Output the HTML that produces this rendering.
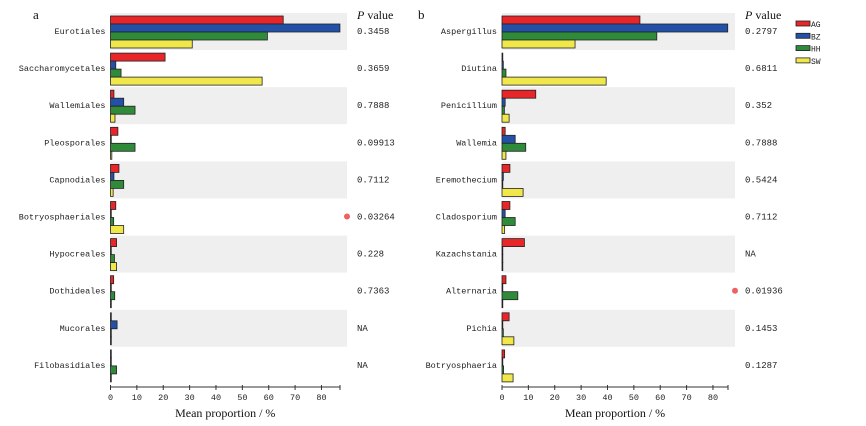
<!DOCTYPE html>
<html><head><meta charset="utf-8"><style>
body{margin:0;background:#fff;}
svg{display:block;font-family:"Liberation Mono",monospace;}
</style></head><body>
<svg id="chart" width="866" height="426"></svg>
<script>
const groups=['AG','BZ','HH','SW'];
const colors=['#e8262a','#2451a8','#2f8a3a','#f0e84a'];
const catsA=['Eurotiales','Saccharomycetales','Wallemiales','Pleosporales','Capnodiales','Botryosphaeriales','Hypocreales','Dothideales','Mucorales','Filobasidiales'];
const agA=[65.5,20.7,1.3,2.8,3.2,2,2.3,1.2,0,0.2];
const bzA=[87,2,5,0.3,1.3,0.3,0.3,0,2.5,0];
const hhA=[59.5,4,9.3,9.3,5,1.2,1.5,1.6,0.3,2.3];
const swA=[31,57.5,1.7,0.5,1,5,2.3,0.3,0.3,0];
const pA=['0.3458','0.3659','0.7888','0.09913','0.7112','0.03264','0.228','0.7363','NA','NA'];
const sigA=[false,false,false,false,false,true,false,false,false,false];
const catsB=['Aspergillus','Diutina','Penicillium','Wallemia','Eremothecium','Cladosporium','Kazachstania','Alternaria','Pichia','Botryosphaeria'];
const agB=[52.3,0.2,12.8,1.2,3,3,8.5,1.5,2.7,1];
const bzB=[85.6,0.5,1.2,5,0.5,1.2,0.2,0.2,0.3,0.3];
const hhB=[58.7,1.5,0.9,9,0,5,0.2,6,0.5,0.6];
const swB=[27.7,39.5,2.7,1.5,8,1,0.2,0.3,4.5,4.2];
const pB=['0.2797','0.6811','0.352','0.7888','0.5424','0.7112','NA','0.01936','0.1453','0.1287'];
const sigB=[false,false,false,false,false,false,false,true,false,false];
const ticks=[0,10,20,30,40,50,60,70,80];

const svg=document.getElementById('chart');
const NS='http://www.w3.org/2000/svg';
function mk(tag,attrs,parent){const e=document.createElementNS(NS,tag);for(const k in attrs)e.setAttribute(k,attrs[k]);(parent||svg).appendChild(e);return e;}

function panel(id,x0,axisEnd,bandEnd,pX,cats,series,pv,sig,letter,letterX){
  const sc=2.637;
  const xs=v=>x0+v*sc;
  const top=13,rh=37.1;
  const g=mk('g',{});
  
  
  cats.forEach((c,i)=>{
    const y=top+i*rh;
    if(i%2===0){const b=mk('rect',{x:x0,y:y,width:bandEnd-x0,height:37,fill:'#efefef'},g);
      
      }
    const t=mk('text',{x:x0-5,y:y+21,'text-anchor':'end','font-size':'8.5',fill:'#222'},g);t.textContent=c;
    
    
    series.forEach((s,j)=>{
      const r=mk('rect',{x:xs(0),y:y+3+j*8,width:Math.max(xs(s[i])-xs(0),0.8),height:8,fill:colors[j],stroke:'#222','stroke-width':'0.8'},g);
      
      
    });
    const p=mk('text',{x:pX,y:y+21,'font-size':'9',fill:'#222'},g);p.textContent=pv[i];
    
    
    if(sig[i]){const d=mk('circle',{cx:pX-10,cy:y+18,r:3,fill:'#f06060'},g);
      
      }
  });
  const ay=387;
  const ax=mk('line',{x1:x0,x2:axisEnd,y1:ay,y2:ay,stroke:'#333','stroke-width':'1'},g);
  
  
  mk('line',{x1:axisEnd,x2:axisEnd,y1:ay-2,y2:ay+3,stroke:'#333'},g);
  ticks.forEach(v=>{
    mk('line',{x1:xs(v),x2:xs(v),y1:ay-2,y2:ay+3,stroke:'#333'},g);
    const t=mk('text',{x:xs(v),y:ay+13,'text-anchor':'middle','font-size':'8.5',fill:'#222'},g);t.textContent=v;
    
    
  });
  const tt=mk('text',{x:(x0+axisEnd)/2,y:417,'text-anchor':'middle','font-size':'12','font-family':'Liberation Serif, serif',fill:'#111'},g);
  tt.textContent='Mean proportion / %';
  
  
  const ph=mk('text',{x:pX,y:19,'font-size':'12','font-family':'Liberation Serif, serif',fill:'#111'},g);
  ph.innerHTML='<tspan font-style="italic">P</tspan> value';
  
  
  const l=mk('text',{x:letterX,y:19,'font-size':'13','font-family':'Liberation Serif, serif',fill:'#111'},g);l.textContent=letter;
  
  
}
panel('a',110.5,340,347,357,catsA,[agA,bzA,hhA,swA],pA,sigA,'a',33);
panel('b',502,728,735,745,catsB,[agB,bzB,hhB,swB],pB,sigB,'b',418);

const lg=mk('g',{});


groups.forEach((gname,j)=>{
  const y=21+j*12.3;
  const r=mk('rect',{x:796,y:y,width:14,height:5,fill:colors[j],stroke:'#222','stroke-width':'0.8'},lg);
  
  
  const t=mk('text',{x:811,y:y+6,'font-size':'8',fill:'#222'},lg);t.textContent=gname;
  
  
});
</script>
</body></html>
